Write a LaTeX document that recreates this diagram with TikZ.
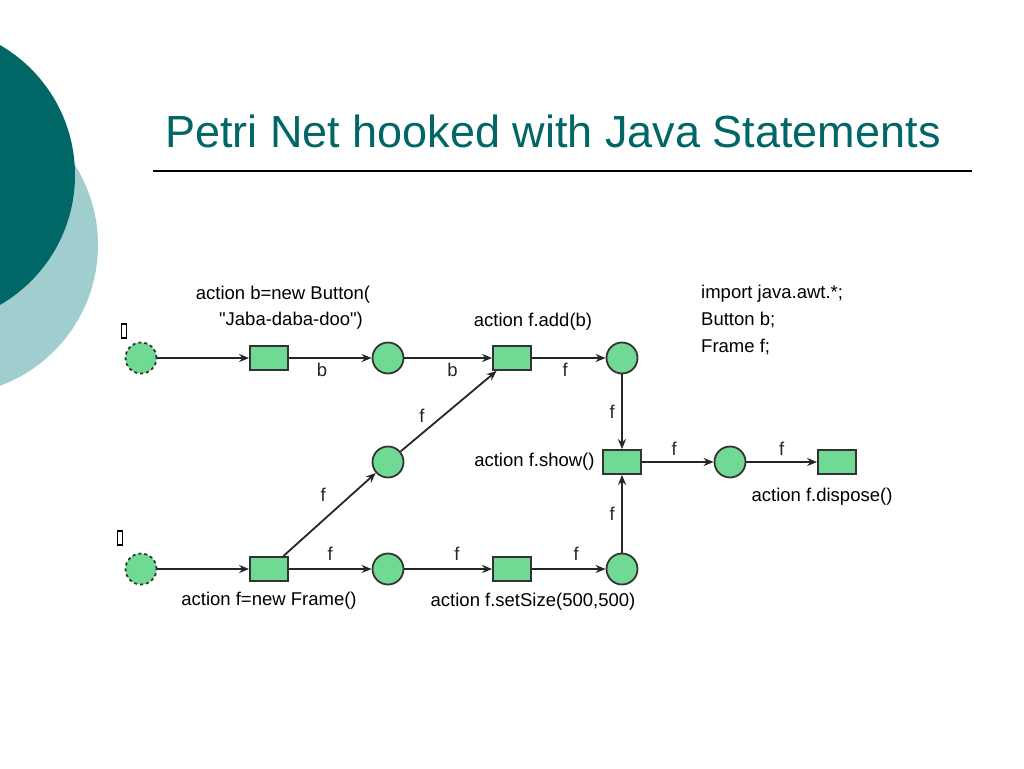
\documentclass[tikz,border=0pt]{standalone}
\usepackage{fontspec}
\setmainfont{Liberation Sans}
\usepackage{xcolor}
\usetikzlibrary{arrows.meta,positioning}

\definecolor{tealdark}{RGB}{0,102,102}
\definecolor{teallight}{RGB}{160,206,206}
\definecolor{placegreen}{RGB}{112,218,148}

\begin{document}
\begin{tikzpicture}[x=1pt, y=-1pt, >={Stealth[length=10pt,width=8pt]}, font=\fontsize{18.5}{27}\selectfont]
    \tikzstyle{place}=[circle, draw=black!80, fill=placegreen, line width=1.8pt,
      minimum size=31pt, inner sep=0pt]
    \tikzstyle{start}=[place, dashed]
    \tikzstyle{trans}=[rectangle, draw=black!80, fill=placegreen, line width=1.8pt,
      minimum width=38pt, minimum height=24pt, inner sep=0pt]
    \tikzstyle{flow}=[->, line width=1.8pt, black!85]
    \tikzstyle{token}=[draw, line width=1.4pt, minimum width=5pt, minimum height=14pt, inner sep=0pt]
    \useasboundingbox (0,0) rectangle (1024,768);
    \clip (0,0) rectangle (1024,768);

    % slide background
    \fill[teallight] (-52,245) circle (150);
    \fill[tealdark] (-75,175) circle (150);
    \node[text=tealdark, font=\fontsize{45}{50}\selectfont, anchor=west, inner sep=0pt] (title) at (165,131)
      {Petri Net hooked with Java Statements};
    \draw[line width=1.3pt] (153,171) -- (972,171);

    % places
    \node[start] (p1) at (141,358) {};
    \node[place] (p2) at (388,358) {};
    \node[place] (p3) at (622,358) {};
    \node[place] (p4) at (388,462) {};
    \node[start] (p5) at (141,569) {};
    \node[place] (p6) at (388,569) {};
    \node[place] (p7) at (622,569) {};
    \node[place] (p8) at (730,462) {};
    \node[token] (k1) at (124,331) {};
    \node[token] (k5) at (120,538) {};

    % transitions
    \node[trans] (newb) at (269,358) {};
    \node[trans] (add) at (512,358) {};
    \node[trans] (newf) at (269,569) {};
    \node[trans] (size) at (512,569) {};
    \node[trans] (show) at (622,462) {};
    \node[trans] (dispose) at (837,462) {};

    % transition labels
    \node (lnewb) at (283,295) {action b=new Button(};
    \node (lnewb2) at (291,321) {\textquotedbl Jaba-daba-doo\textquotedbl)};
    \node (ladd) at (533,322) {action f.add(b)};
    \node[left=4pt of show] (lshow) {action f.show()};
    \node (ldispose) at (822,497) {action f.dispose()};
    \node (lnewf) at (269,601) {action f=new Frame()};
    \node (lsize) at (533,602) {action f.setSize(500,500)};
    \node[align=left, anchor=west, inner sep=0pt] (decl) at (701,320)
      {import java.awt.*;\\ Button b;\\ Frame f;};

    % arcs
    \draw[flow] (p1) -- (newb);
    \draw[flow] (newb) -- node[pos=0.4, below=1pt]{b} (p2);
    \draw[flow] (p2) -- node[pos=0.55, below=1pt]{b} (add);
    \draw[flow] (add) -- node[pos=0.45, below=1pt]{f} (p3);
    \draw[flow] (p3) -- node[left=3pt]{f} (show);
    \draw[flow] (show) -- node[pos=0.45, above=2pt]{f} (p8);
    \draw[flow] (p8) -- node[pos=0.5, above=2pt]{f} (dispose);
    \draw[flow] (p5) -- (newf);
    \draw[flow] (newf) -- node[pos=0.5, above=4pt]{f} (p6);
    \draw[flow] (newf) -- node[pos=0.55, above left=6pt]{f} (p4);
    \draw[flow] (p4) -- node[pos=0.3, above left=1pt]{f} (add);
    \draw[flow] (p6) -- node[pos=0.6, above=4pt]{f} (size);
    \draw[flow] (size) -- node[pos=0.6, above=4pt]{f} (p7);
    \draw[flow] (p7) -- node[left=3pt]{f} (show);
\end{tikzpicture}
\end{document}
